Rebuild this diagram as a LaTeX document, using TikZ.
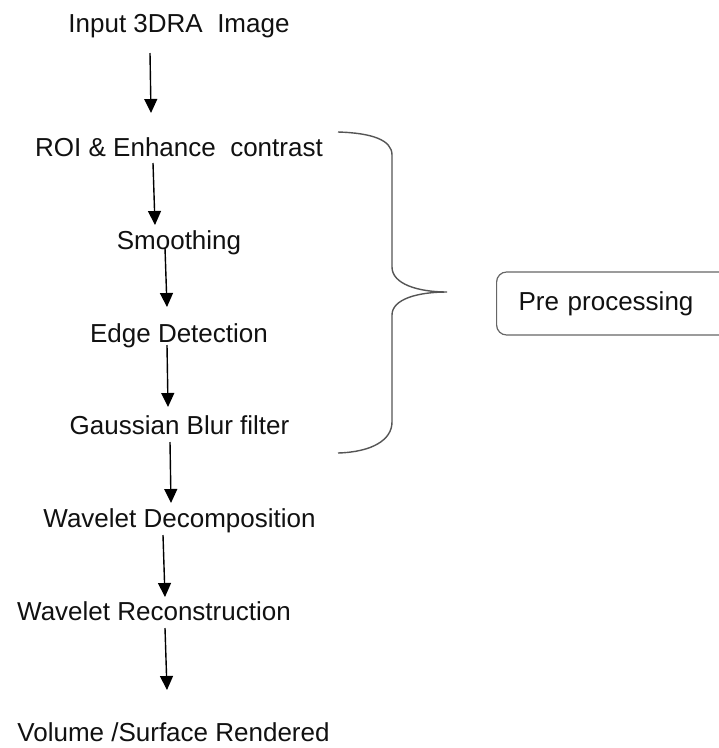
\documentclass[tikz,border=0pt]{standalone}
\usepackage{fontspec}
\setmainfont{Liberation Sans}
\usetikzlibrary{arrows.meta}

\definecolor{txt}{HTML}{111111}
\definecolor{bracecol}{HTML}{555555}
\definecolor{boxcol}{HTML}{666666}

\tikzset{
  steplabel/.style={anchor=base, inner sep=0pt, text=txt,
    font=\fontsize{26}{31}\selectfont},
  flowarrow/.style={draw=black, line width=1.4pt,
    -{Triangle[width=13pt,length=14pt]}},
  groupbox/.style={draw=boxcol, line width=1.2pt, rounded corners=10pt,
    anchor=west, minimum height=63pt, inner xsep=22pt, inner ysep=0pt,
    text width=216pt, align=left, text=txt,
    font=\fontsize{26}{31}\selectfont},
  bracestroke/.style={draw=bracecol, line width=1.4pt}
}

\begin{document}
\begin{tikzpicture}[x=1pt, y=-1pt]
  \useasboundingbox (0,0) rectangle (719,748);
  \fill[white] (0,0) rectangle (719,748);
  \clip (0,0) rectangle (719,748);

  % processing steps (placed by baseline)
  \node[steplabel] (in)   at (179,32)    {Input 3DRA\ \ Image};
  \node[steplabel] (roi)  at (179,156)   {ROI \& Enhance\ \ contrast};
  \node[steplabel] (sm)   at (179,249)   {Smoothing};
  \node[steplabel] (edge) at (179,342)   {Edge Detection};
  \node[steplabel] (gb)   at (179.5,434) {Gaussian Blur filter};
  \node[steplabel] (wd)   at (179.5,527) {Wavelet Decomposition};
  \node[steplabel] (wr)   at (154,620)   {Wavelet Reconstruction};
  \node[steplabel] (vol)  at (173.5,741) {Volume /Surface Rendered};

  % arrows between consecutive steps
  \draw[flowarrow] ([shift={(-29,21)}]in.base)   -- ([shift={(-28,-43)}]roi.base);
  \draw[flowarrow] ([shift={(-26,7)}]roi.base)   -- ([shift={(-24,-24)}]sm.base);
  \draw[flowarrow] ([shift={(-14,-1)}]sm.base)   -- ([shift={(-12,-35)}]edge.base);
  \draw[flowarrow] ([shift={(-12,3)}]edge.base)  -- ([shift={(-11.5,-27)}]gb.base);
  \draw[flowarrow] ([shift={(-9.5,8)}]gb.base)   -- ([shift={(-8.5,-24)}]wd.base);
  \draw[flowarrow] ([shift={(-16.5,8)}]wd.base)  -- ([shift={(11,-23)}]wr.base);
  \draw[flowarrow] ([shift={(11,8)}]wr.base)     -- ([shift={(-6.5,-51)}]vol.base);

  % curly brace grouping the pre-processing steps
  \path[bracestroke]
    (338,132) .. controls (372,133) and (392,140) .. (392,155)
    -- (392,267)
    .. controls (392,284) and (418,292) .. (447,292)
    .. controls (418,292) and (392,299) .. (392,315)
    -- (392,422)
    .. controls (392,440) and (372,452) .. (338,453);

  % group label
  \node[groupbox] (pre) at (496,303.5) {Pre processing};
\end{tikzpicture}
\end{document}
